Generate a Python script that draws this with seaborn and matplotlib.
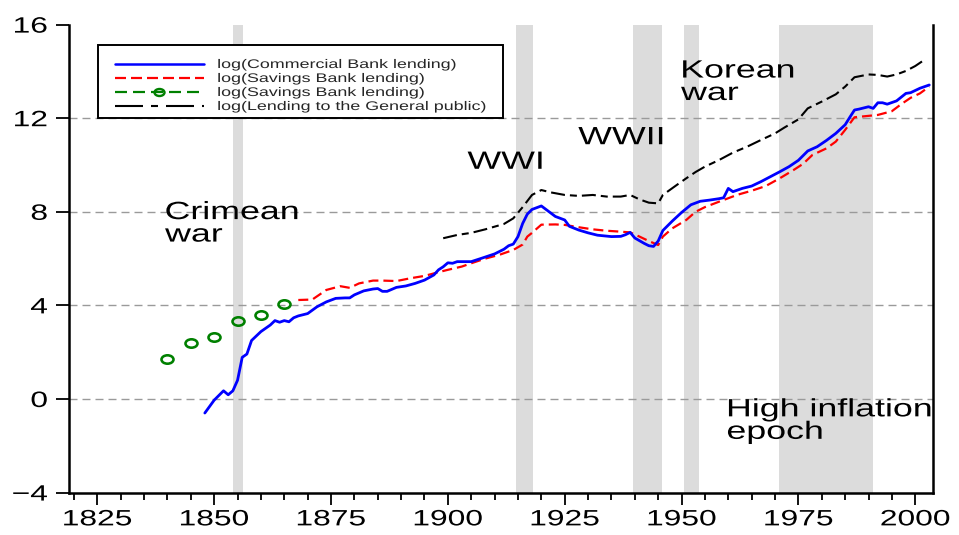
import numpy as np
import pandas as pd
import matplotlib
matplotlib.use("Agg")
import matplotlib.pyplot as plt
import seaborn as sns
from matplotlib.patheffects import AbstractPathEffect
from matplotlib.transforms import Affine2D
from matplotlib.path import Path
from matplotlib.lines import Line2D
from matplotlib.patches import Rectangle
from matplotlib.ticker import MultipleLocator, FixedLocator

# ---------------- data ----------------
commercial_years = [1848, 1850, 1852, 1853, 1854, 1855, 1856, 1857, 1858, 1860, 1862, 1863,
                    1864, 1865, 1866, 1867, 1868, 1870, 1872, 1874, 1876, 1878, 1879, 1880,
                    1882, 1884, 1885, 1886, 1887, 1889, 1891, 1893, 1895, 1897, 1898, 1899,
                    1900, 1901, 1902, 1905, 1907, 1910, 1912, 1913, 1914, 1915, 1916, 1917,
                    1918, 1920, 1921, 1923, 1925, 1926, 1928, 1930, 1932, 1935, 1937, 1938,
                    1939, 1940, 1942, 1943, 1944, 1945, 1946, 1948, 1950, 1952, 1954, 1956,
                    1958, 1959, 1960, 1961, 1963, 1965, 1967, 1969, 1971, 1973, 1975, 1977,
                    1979, 1981, 1983, 1985, 1986, 1987, 1988, 1990, 1991, 1992, 1993, 1994,
                    1996, 1998, 1999, 2001, 2003]
commercial_values = [-0.60, -0.05, 0.35, 0.18, 0.35, 0.80, 1.78, 1.92, 2.50, 2.88, 3.16, 3.35,
                     3.28, 3.35, 3.30, 3.47, 3.55, 3.65, 3.94, 4.15, 4.30, 4.32, 4.32, 4.45,
                     4.62, 4.70, 4.72, 4.60, 4.60, 4.77, 4.83, 4.94, 5.08, 5.30, 5.52, 5.65,
                     5.82, 5.80, 5.87, 5.87, 6.00, 6.20, 6.40, 6.55, 6.62, 6.94, 7.50, 7.90,
                     8.10, 8.25, 8.10, 7.80, 7.65, 7.38, 7.22, 7.10, 7.00, 6.94, 6.95, 7.02,
                     7.12, 6.88, 6.65, 6.55, 6.52, 6.75, 7.20, 7.60, 7.97, 8.30, 8.45, 8.50,
                     8.56, 8.60, 9.00, 8.86, 9.00, 9.10, 9.29, 9.50, 9.71, 9.93, 10.20, 10.60,
                     10.78, 11.05, 11.35, 11.72, 12.04, 12.35, 12.39, 12.49, 12.42, 12.66, 12.66, 12.60,
                     12.74, 13.06, 13.09, 13.28, 13.42]

savings_years = [1868, 1871, 1874, 1877, 1879, 1881, 1884, 1886, 1889, 1892, 1895, 1898,
                 1900, 1903, 1905, 1908, 1911, 1913, 1914, 1916, 1917, 1918, 1920, 1923,
                 1925, 1928, 1931, 1934, 1937, 1939, 1941, 1943, 1945, 1946, 1948, 1951,
                 1953, 1955, 1958, 1962, 1965, 1968, 1971, 1974, 1976, 1978, 1981, 1983,
                 1985, 1987, 1990, 1992, 1995, 1997, 1999, 2001, 2003]
savings_values = [4.23, 4.25, 4.66, 4.82, 4.75, 4.94, 5.06, 5.06, 5.04, 5.16, 5.26, 5.42,
                  5.52, 5.66, 5.80, 6.00, 6.16, 6.30, 6.37, 6.60, 6.94, 7.10, 7.45, 7.46,
                  7.44, 7.34, 7.25, 7.19, 7.15, 7.12, 6.94, 6.75, 6.58, 6.94, 7.29, 7.65,
                  8.00, 8.20, 8.43, 8.73, 8.90, 9.10, 9.43, 9.79, 10.05, 10.43, 10.71, 11.00,
                  11.50, 12.04, 12.10, 12.14, 12.30, 12.60, 12.87, 13.06, 13.35]

early_savings_years = [1840, 1845, 1850, 1855, 1860, 1865]
early_savings_values = [1.71, 2.39, 2.65, 3.33, 3.59, 4.06]

public_years = [1899, 1902, 1905, 1908, 1912, 1914, 1916, 1918, 1920, 1922, 1925, 1928,
                1931, 1934, 1937, 1939, 1941, 1943, 1945, 1946, 1949, 1951, 1953, 1955,
                1958, 1961, 1964, 1967, 1970, 1972, 1975, 1977, 1980, 1983, 1985, 1987,
                1990, 1992, 1994, 1996, 1998, 2000, 2002]
public_values = [6.87, 7.01, 7.10, 7.25, 7.48, 7.72, 8.20, 8.72, 8.93, 8.83, 8.72, 8.68,
                 8.72, 8.65, 8.65, 8.72, 8.53, 8.39, 8.36, 8.72, 9.15, 9.43, 9.70, 9.93,
                 10.21, 10.53, 10.78, 11.07, 11.35, 11.60, 11.95, 12.42, 12.71, 13.02, 13.35, 13.75,
                 13.87, 13.85, 13.78, 13.87, 14.02, 14.23, 14.50]

legend_labels = ["log(Commercial Bank lending)",
                 "log(Savings Bank lending)",
                 "log(Savings Bank lending)",
                 "log(Lending to the General public)"]

shade_starts = [1854.0, 1914.5, 1939.6, 1950.5, 1970.8]
shade_ends = [1856.2, 1918.3, 1945.8, 1953.7, 1991.0]

event_labels = ["Crimean\nwar", "WWI", "WWII", "Korean\nwar", "High inflation\nepoch"]
event_x = [1839.5, 1904.2, 1927.9, 1949.9, 1959.7]
event_y = [8.5, 10.65, 11.7, 14.55, 0.07]

x_major_ticks = [1825, 1850, 1875, 1900, 1925, 1950, 1975, 2000]
y_ticks = [-4, 0, 4, 8, 12, 16]


# ---------------- helpers ----------------
class HStretch(AbstractPathEffect):
    """Widen text glyphs horizontally (the reference is horizontally stretched)."""
    def __init__(self, sx=1.43, pivot="left"):
        super().__init__()
        self.sx = sx
        self.pivot = pivot

    def draw_path(self, renderer, gc, tpath, affine, rgbFace=None):
        ext = tpath.get_extents(affine)
        if self.pivot == "left":
            px = ext.x0
        elif self.pivot == "right":
            px = ext.x1
        else:
            px = 0.5 * (ext.x0 + ext.x1)
        t = affine + Affine2D().translate(-px, 0).scale(self.sx, 1.0).translate(px, 0)
        renderer.draw_path(gc, tpath, t, rgbFace)


SX = 1.43
PT = 0.72  # points per pixel at dpi 100

sns.set_theme(style="white")
plt.rcParams["font.family"] = ["Liberation Sans", "DejaVu Sans"]
plt.rcParams["lines.scale_dashes"] = False

fig = plt.figure(figsize=(9.59, 5.35), dpi=100)
ax = fig.add_axes([0.0720, 0.0793, 0.9009, 0.8747])

# shaded periods
for a, b in zip(shade_starts, shade_ends):
    ax.axvspan(a, b, color="#dcdcdc", lw=0, zorder=0)

# series
blue, red, green, black = "#0000ff", "#ff0000", "#008000", "#000000"
red_dash = (0, (10 * PT, 5 * PT))
black_dash = (0, (14 * PT, 5 * PT, 7 * PT, 5 * PT))
ellipse = Path.unit_circle().transformed(Affine2D().scale(SX, 1.0))

df_c = pd.DataFrame({"year": commercial_years, "value": commercial_values})
df_s = pd.DataFrame({"year": savings_years, "value": savings_values})
df_e = pd.DataFrame({"year": early_savings_years, "value": early_savings_values})
df_p = pd.DataFrame({"year": public_years, "value": public_values})

sns.lineplot(data=df_p, x="year", y="value", ax=ax, color=black, linewidth=1.5,
             errorbar=None, estimator=None, zorder=3)
ax.lines[-1].set_linestyle(black_dash)
sns.lineplot(data=df_s, x="year", y="value", ax=ax, color=red, linewidth=1.6,
             errorbar=None, estimator=None, zorder=4)
ax.lines[-1].set_linestyle(red_dash)
sns.lineplot(data=df_c, x="year", y="value", ax=ax, color=blue, linewidth=2.0,
             errorbar=None, estimator=None, zorder=5)
sns.lineplot(data=df_e, x="year", y="value", ax=ax, color=green, linewidth=0,
             errorbar=None, estimator=None, zorder=5)
gl = ax.lines[-1]
gl.set_linestyle("none")
gl.set_marker(ellipse)
gl.set_markersize(12 * PT)
gl.set_markerfacecolor("none")
gl.set_markeredgecolor(green)
gl.set_markeredgewidth(2.6 * PT)

# axes limits, ticks, grid
ax.set_xlim(1818.95, 2003.8)
ax.set_ylim(-4, 16)
ax.xaxis.set_major_locator(FixedLocator(x_major_ticks))
ax.xaxis.set_minor_locator(MultipleLocator(5))
ax.yaxis.set_major_locator(FixedLocator(y_ticks))
ax.set_xlabel("")
ax.set_ylabel("")

ax.set_axisbelow(True)
ax.yaxis.grid(True, color="#9a9a9a", linestyle=(0, (8 * PT, 5 * PT)), linewidth=1.0)
ax.xaxis.grid(False)

for side in ["left", "bottom", "right"]:
    ax.spines[side].set_visible(True)
    ax.spines[side].set_color("black")
    ax.spines[side].set_linewidth(1.8)
ax.spines["top"].set_visible(False)

ax.tick_params(axis="y", which="major", direction="out", length=9.4, width=1.3,
               labelsize=16, pad=6, colors="black", left=True, right=False)
ax.tick_params(axis="x", which="major", direction="out", length=8.6, width=1.3,
               labelsize=16, pad=3.5, colors="black", bottom=True, top=False)
ax.tick_params(axis="x", which="minor", direction="out", length=5, width=1.3,
               colors="black", bottom=True, top=False)

# annotations
for s, x, y in zip(event_labels, event_x, event_y):
    ax.text(x, y, s, fontsize=18, ha="left", va="top", linespacing=0.92, color="black",
            path_effects=[HStretch(SX, "left")], zorder=6)

# legend box and legend
ax.add_patch(Rectangle((0.0336, 0.800), 0.469, 0.1564, transform=ax.transAxes,
                       facecolor="white", edgecolor="black", linewidth=1.4, zorder=6))
handles = [
    Line2D([], [], color=blue, lw=1.8),
    Line2D([], [], color=red, lw=1.6, linestyle=(0, (11 * PT, 5 * PT))),
    Line2D([], [], color=green, lw=1.6, linestyle=(0, (12 * PT, 6 * PT)), marker=ellipse,
           markersize=10 * PT, markerfacecolor="none", markeredgecolor=green,
           markeredgewidth=2.4 * PT),
    Line2D([], [], color=black, lw=1.5, linestyle=(0, (28 * PT, 8 * PT, 7 * PT, 8 * PT))),
]
leg = ax.legend(handles, legend_labels, loc="upper left", bbox_to_anchor=(0.0532, 0.9265),
                borderaxespad=0, borderpad=0, frameon=False, fontsize=9,
                labelspacing=0.16, handlelength=7.1, handletextpad=1.1, numpoints=1)
leg.set_zorder(7)
for t in leg.get_texts():
    t.set_path_effects([HStretch(SX, "left")])

fig.canvas.draw()
for lab in ax.get_xticklabels():
    lab.set_path_effects([HStretch(SX, "center")])
for lab in ax.get_yticklabels():
    lab.set_path_effects([HStretch(SX, "right")])
# hide grid lines at the axis limits
ygl = ax.yaxis.get_gridlines()
ygl[0].set_visible(False)
ygl[-1].set_visible(False)

fig.savefig("out.png", dpi=100)
